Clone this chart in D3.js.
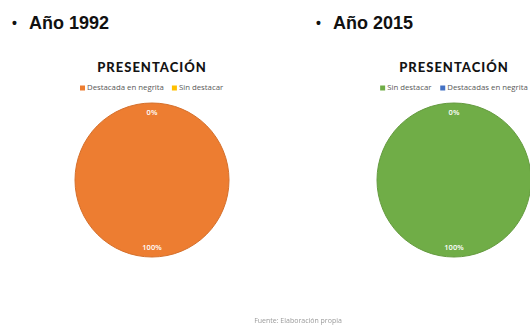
<!DOCTYPE html>
<html>
<head>
<meta charset="utf-8">
<script src="https://cdn.jsdelivr.net/npm/d3@7"></script>
<style>
  html, body { margin: 0; padding: 0; background: #fff; }
  svg { display: block; }
</style>
</head>
<body>
<svg id="chart" width="530" height="325"></svg>
<script>
// Two years of the "PRESENTACIÓN" breakdown (percent of items)
const years = ["Año 1992", "Año 2015"];
const chartTitle = "PRESENTACIÓN";

const categories1992 = ["Destacada en negrita", "Sin destacar"];
const values1992 = [100, 0];
const colors1992 = ["#ED7D31", "#FFC000"];

const categories2015 = ["Sin destacar", "Destacadas en negrita"];
const values2015 = [100, 0];
const colors2015 = ["#70AD47", "#4472C4"];

const sourceNote = "Fuente: Elaboración propia";

const svg = d3.select("#chart");

const defs = svg.append("defs");
defs.append("filter").attr("id", "soft")
  .append("feGaussianBlur").attr("stdDeviation", 0.6);

const panels = [
  { year: years[0], cats: categories1992, vals: values1992, colors: colors1992, headX: 12, cx: 152 },
  { year: years[1], cats: categories2015, vals: values2015, colors: colors2015, headX: 316, cx: 454 }
];

const radius = 77;
const cy = 180;

const pie = d3.pie().sort(null).value(d => d.v);
const arc = d3.arc().innerRadius(0).outerRadius(radius);
const labelArc = d3.arc().innerRadius(radius * 0.88).outerRadius(radius * 0.88);

panels.forEach(p => {
  const data = p.cats.map((c, i) => ({ c, v: p.vals[i], col: p.colors[i] }));
  const total = d3.sum(data, d => d.v);

  // Bulleted heading
  const head = svg.append("text")
    .attr("x", p.headX).attr("y", 29)
    .attr("font-family", "Liberation Sans, Arial, sans-serif")
    .attr("font-weight", "bold").attr("font-size", 18)
    .attr("fill", "#111");
  head.append("tspan").text("•").attr("font-size", 14).attr("dy", -1);
  head.append("tspan").attr("x", p.headX + 17).attr("dy", 1).text(p.year);

  // Chart title
  svg.append("text")
    .attr("x", p.cx).attr("y", 72)
    .attr("text-anchor", "middle")
    .attr("font-family", "Lato, 'Open Sans', sans-serif")
    .attr("font-weight", 900).attr("font-size", 13)
    .attr("letter-spacing", 1)
    .attr("fill", "#141414")
    .text(chartTitle);

  // Legend, centred above the pie
  const legend = svg.append("g");
  const items = legend.selectAll("g").data(data).join("g");
  items.append("rect")
    .attr("width", 5).attr("height", 5).attr("y", -4.5)
    .attr("fill", d => d.col);
  items.append("text")
    .attr("x", 7).attr("y", 0)
    .attr("font-family", "'Open Sans', 'Noto Sans', sans-serif")
    .attr("font-size", 7.8).attr("fill", "#595959")
    .text(d => d.c);
  let off = 0;
  items.each(function () {
    d3.select(this).attr("transform", `translate(${off},0)`);
    off += this.getBBox().width + 8;
  });
  const lw = off - 8;
  legend.attr("transform", `translate(${p.cx - lw / 2},${90})`);

  // Pie
  const g = svg.append("g").attr("transform", `translate(${p.cx},${cy})`);
  const arcs = pie(data);
  g.selectAll("path").data(arcs).join("path")
    .attr("d", arc)
    .attr("fill", d => d.data.col)
    .attr("stroke", d => d3.color(d.data.col).darker(0.3))
    .attr("stroke-width", d => d.data.v > 0 ? 1 : 0);

  g.selectAll("text.lbl").data(arcs).join("text")
    .attr("class", "lbl")
    .attr("transform", d => `translate(${labelArc.centroid(d)})`)
    .attr("text-anchor", "middle").attr("dy", "0.35em")
    .attr("font-family", "'Open Sans', 'Noto Sans', sans-serif")
    .attr("font-weight", 600).attr("font-size", 7.5)
    .attr("fill", "#fff")
    .text(d => d3.format(".0%")(d.data.v / total));
});

// Source note
svg.append("text")
  .attr("x", 298).attr("y", 323)
  .attr("text-anchor", "middle")
  .attr("font-family", "'Open Sans', 'Noto Sans', sans-serif")
  .attr("font-size", 7).attr("fill", "#9a9a9a")
  .attr("filter", "url(#soft)")
  .text(sourceNote);
</script>
</body>
</html>
